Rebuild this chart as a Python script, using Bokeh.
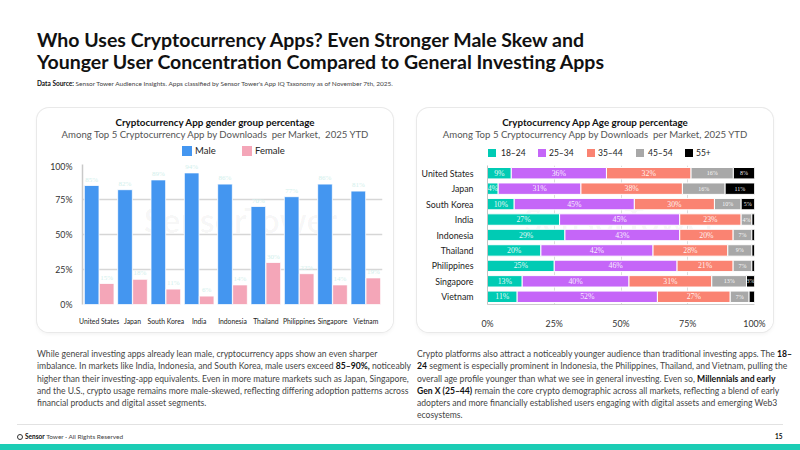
from bokeh.plotting import figure
from bokeh.models import (ColumnDataSource, FactorRange, Range1d, Label, LabelSet, FixedTicker,
                          PrintfTickFormatter, Div, Spacer)
from bokeh.layouts import column, row
from bokeh.transform import dodge
from bokeh.embed import file_html
from bokeh.resources import INLINE

# ---------------- data ----------------
markets = ["United States", "Japan", "South Korea", "India", "Indonesia",
           "Thailand", "Philippines", "Singapore", "Vietnam"]
male = [85, 82, 89, 94, 86, 70, 77, 86, 81]
female = [15, 18, 11, 6, 14, 30, 22, 14, 19]

age_groups = ["18–24", "25–34", "35–44", "45–54", "55+"]
age_18_24 = [9, 4, 10, 27, 29, 20, 25, 13, 11]
age_25_34 = [36, 31, 45, 45, 43, 42, 46, 40, 52]
age_35_44 = [32, 38, 30, 23, 20, 28, 21, 31, 27]
age_45_54 = [16, 16, 10, 4, 7, 9, 7, 13, 7]
age_55_plus = [8, 11, 5, 1, 1, 1, 1, 3, 2]

pct_ticks = [0, 25, 50, 75, 100]

# ---------------- styles ----------------
FONT = "Lato, 'Open Sans', sans-serif"
BLUE = "#4496f0"
PINK = "#f4a6b8"
AGE_COLORS = ["#00cbb4", "#c566f8", "#fa8372", "#a8a8a8", "#000000"]
CARD = {"border-radius": "12px", "overflow": "hidden", "background": "#ffffff",
        "box-shadow": "0 0 0 1px #e9e9e9, 0 2px 4px rgba(0,0,0,0.06)"}


def card_head(title, subtitle, legend_html):
    return Div(width=356, height=52, margin=0, text=f"""
<div style="position:relative;width:356px;height:52px;font-family:{FONT};">
<div style="position:absolute;left:0;top:8px;width:356px;text-align:center;font-size:9.8px;line-height:12px;font-weight:700;color:#111;white-space:nowrap;">{title}</div>
<div style="position:absolute;left:0;top:21px;width:356px;text-align:center;font-size:9.6px;line-height:12px;color:#555;white-space:pre;">{subtitle}</div>
{legend_html}
</div>""")


def legend_item(label, color, sx, tx, top, size, fsize):
    return (f'<div style="position:absolute;left:{sx}px;top:{top}px;width:{size}px;height:{size}px;background:{color};"></div>'
            f'<div style="position:absolute;left:{tx}px;top:{top + size / 2 - 6}px;font-size:{fsize}px;line-height:12px;color:#222;white-space:nowrap;">{label}</div>')


# ---------------- left chart: gender ----------------
p1 = figure(width=356, height=172, x_range=FactorRange(factors=markets, range_padding=0),
            y_range=Range1d(0, 100), output_backend="svg", toolbar_location=None,
            min_border_left=45, min_border_right=11, min_border_top=4, min_border_bottom=28,
            outline_line_color=None, margin=0)

src1 = ColumnDataSource(dict(market=markets, male=male, female=female,
                             male_t=[f"{v}%" for v in male], female_t=[f"{v}%" for v in female]))

p1.add_layout(Label(x=4.74, y=61, text="SensorTower", text_align="center", text_baseline="middle",
                    text_font=FONT, text_font_size="34px", text_font_style="bold",
                    text_color="#000000", text_alpha=0.035, level="underlay"))

p1.vbar(x=dodge("market", -0.225, range=p1.x_range), top="male", width=0.44, source=src1,
        fill_color=BLUE, line_color="white", line_width=0.8)
p1.vbar(x=dodge("market", 0.225, range=p1.x_range), top="female", width=0.44, source=src1,
        fill_color=PINK, line_color="white", line_width=0.8)

for col, tcol, off in (("male", "male_t", -0.225), ("female", "female_t", 0.225)):
    p1.add_layout(LabelSet(x=dodge("market", off, range=p1.x_range), y=col, text=tcol, source=src1,
                           y_offset=2, text_align="center", text_baseline="bottom",
                           text_font=FONT, text_font_size="7px", text_color="#d2efec"))

p1.yaxis.ticker = FixedTicker(ticks=pct_ticks)
p1.yaxis.formatter = PrintfTickFormatter(format="%d%%")
p1.yaxis.axis_line_color = "#c9c9c9"
p1.yaxis.axis_line_width = 1.5
p1.yaxis.major_tick_line_color = None
p1.yaxis.minor_tick_line_color = None
p1.yaxis.major_label_text_font_size = "8.8px"
p1.yaxis.major_label_text_color = "#333"
p1.yaxis.major_label_text_font = FONT
p1.yaxis.major_label_standoff = 4
p1.xaxis.axis_line_color = None
p1.xaxis.major_tick_line_color = None
p1.xaxis.major_label_text_font_size = "6.8px"
p1.xaxis.major_label_text_color = "#222"
p1.xaxis.major_label_text_font = FONT
p1.xaxis.major_label_standoff = 6
p1.xgrid.grid_line_color = None
p1.ygrid.ticker = FixedTicker(ticks=pct_ticks)
p1.ygrid.grid_line_color = "#d6d6d6"
p1.ygrid.grid_line_width = 1.5

head1 = card_head("Cryptocurrency App gender group percentage",
                  "Among Top 5 Cryptocurrency App by Downloads  per Market,  2025 YTD",
                  legend_item("Male", BLUE, 145, 158, 38, 10, 9.5)
                  + legend_item("Female", PINK, 205, 218, 38, 10, 9.5))
card1 = column(head1, p1, spacing=0, margin=0, styles=CARD)

# ---------------- right chart: age ----------------
keys = ["a1", "a2", "a3", "a4", "a5"]
groups = [age_18_24, age_25_34, age_35_44, age_45_54, age_55_plus]
n = len(markets)
totals = [sum(g[i] for g in groups) for i in range(n)]
data2 = {"market": markets}
cum = [0.0] * n
for k, g in zip(keys, groups):
    share = [g[i] / totals[i] * 100 for i in range(n)]
    data2[k] = share
    data2[k + "_c"] = [cum[i] + share[i] / 2 for i in range(n)]
    data2[k + "_t"] = [f"{g[i]}%" if g[i] >= 3 else "" for i in range(n)]
    cum = [cum[i] + share[i] for i in range(n)]
src2 = ColumnDataSource(data2)

p2 = figure(width=356, height=172, y_range=FactorRange(factors=markets[::-1], range_padding=0),
            x_range=Range1d(0, 100), output_backend="svg", toolbar_location=None,
            min_border_left=70, min_border_right=19, min_border_top=5, min_border_bottom=28,
            outline_line_color=None, margin=0)

p2.add_layout(Label(x=49.8, y=5.5, text="SensorTower", text_align="center", text_baseline="middle",
                    text_font=FONT, text_font_size="34px", text_font_style="bold",
                    text_color="#000000", text_alpha=0.035, level="underlay"))

p2.hbar_stack(keys, y="market", height=0.74, color=AGE_COLORS, source=src2,
              line_color="white", line_width=1)

for k, fs in zip(keys, ["7.8px", "7.8px", "7.8px", "6px", "6px"]):
    p2.add_layout(LabelSet(x=k + "_c", y="market", text=k + "_t", source=src2,
                           text_align="center", text_baseline="middle", text_font=FONT,
                           text_font_size=fs, text_color="#ffffff", text_alpha=0.92))

p2.xaxis.ticker = FixedTicker(ticks=pct_ticks)
p2.xaxis.formatter = PrintfTickFormatter(format="%d%%")
p2.xaxis.axis_line_color = "#cccccc"
p2.xaxis.major_tick_line_color = None
p2.xaxis.minor_tick_line_color = None
p2.xaxis.major_label_text_font_size = "8.8px"
p2.xaxis.major_label_text_color = "#333"
p2.xaxis.major_label_text_font = FONT
p2.xaxis.major_label_standoff = 7
p2.yaxis.axis_line_color = "#c4c4c4"
p2.yaxis.major_tick_line_color = None
p2.yaxis.major_label_text_font_size = "8.8px"
p2.yaxis.major_label_text_color = "#222"
p2.yaxis.major_label_text_font = FONT
p2.yaxis.major_label_standoff = 8
p2.ygrid.grid_line_color = None
p2.xgrid.ticker = FixedTicker(ticks=pct_ticks)
p2.xgrid.grid_line_color = "#dcdcdc"

leg2 = "".join(legend_item(lab, c, sx, tx, 41, 8, 8.5) for lab, c, sx, tx in
               zip(age_groups, AGE_COLORS, [71, 121, 170, 219, 268], [84, 132, 181, 231, 279]))
head2 = card_head("Cryptocurrency App  Age group percentage",
                  "Among Top 5 Cryptocurrency App by Downloads  per Market, 2025 YTD", leg2)
card2 = column(head2, p2, spacing=0, margin=0, styles=CARD)

# ---------------- page text ----------------
header = Div(width=800, height=108, margin=0, text=f"""
<div style="position:relative;width:800px;height:108px;font-family:{FONT};">
<div style="position:absolute;left:37px;top:29px;font-size:19.5px;font-weight:700;line-height:22px;color:#111;white-space:nowrap;">Who Uses Cryptocurrency Apps? Even Stronger Male Skew and<br>Younger User Concentration Compared to General Investing Apps</div>
<div style="position:absolute;left:37px;top:80px;font-size:6.5px;line-height:8px;color:#444;white-space:nowrap;"><b style="color:#111">Data Source:</b> Sensor Tower Audience Insights. Apps classified by Sensor Tower's App IQ Taxonomy as of November 7th, 2025.</div>
</div>""")

B = 'style="color:#111;font-weight:700"'
left_txt = ("While general investing apps already lean male, cryptocurrency apps show an even sharper<br>"
            f"imbalance. In markets like India, Indonesia, and South Korea, male users exceed <b {B}>85–90%,</b> noticeably<br>"
            "higher than their investing-app equivalents. Even in more mature markets such as Japan, Singapore,<br>"
            "and the U.S., crypto usage remains more male-skewed, reflecting differing adoption patterns across<br>"
            "financial products and digital asset segments.")
right_txt = (f"Crypto platforms also attract a noticeably younger audience than traditional investing apps. The <b {B}>18–</b><br>"
             f"<b {B}>24</b> segment is especially prominent in Indonesia, the Philippines, Thailand, and Vietnam, pulling the<br>"
             f"overall age profile younger than what we see in general investing. Even so, <b {B}>Millennials and early</b><br>"
             f"<b {B}>Gen X (25–44)</b> remain the core crypto demographic across all markets, reflecting a blend of early<br>"
             "adopters and more financially established users engaging with digital assets and emerging Web3<br>"
             "ecosystems.")
TXT = "position:absolute;top:16px;font-size:8.6px;line-height:12.3px;color:#454545;white-space:nowrap;"
bottom = Div(width=800, height=118, margin=0, text=f"""
<div style="position:relative;width:800px;height:118px;font-family:{FONT};">
<div style="{TXT}left:37px;">{left_txt}</div>
<div style="{TXT}left:417px;">{right_txt}</div>
<div style="position:absolute;left:17px;top:92px;width:766px;height:1px;background:#e2e2e2;"></div>
<div style="position:absolute;left:17px;top:101px;font-size:6.5px;line-height:8px;color:#444;white-space:nowrap;"><span style="display:inline-block;width:6px;height:6px;border:1px solid #333;border-radius:50%;vertical-align:-1px;margin-right:2px;"></span><b style="color:#111">Sensor</b> Tower · All Rights Reserved</div>
<div style="position:absolute;left:775px;top:101px;font-size:6.5px;line-height:8px;font-weight:700;color:#111;">15</div>
<div style="position:absolute;left:0px;top:112px;width:800px;height:6px;background:#1ccdb5;"></div>
</div>""")

charts = row(Spacer(width=37, height=224), card1, Spacer(width=24, height=224), card2,
             Spacer(width=27, height=224), spacing=0, margin=0)
page = column(header, charts, bottom, spacing=0, margin=0)

open("out.html", "w").write(file_html(page, INLINE))
